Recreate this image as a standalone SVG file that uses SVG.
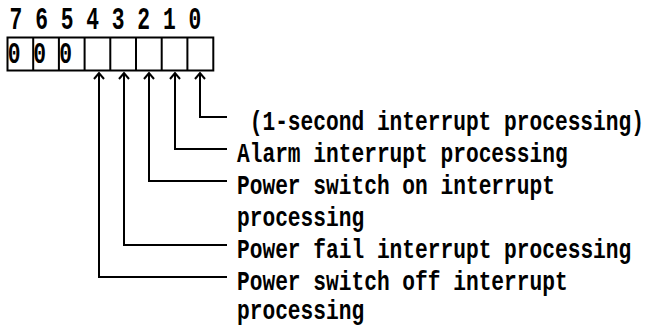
<svg xmlns="http://www.w3.org/2000/svg" width="648" height="326" viewBox="0 0 648 326">
<style>
.t{font-family:"Liberation Mono","DejaVu Sans Mono",monospace;font-weight:bold;font-size:21.2px;fill:#000}
.d{font-family:"Liberation Mono","DejaVu Sans Mono",monospace;font-weight:bold;font-size:21.3px;fill:#000}
.box{fill:#fff;stroke:#000;stroke-width:2}
.c{fill:none;stroke:#000;stroke-width:2}
</style>
<defs>
<marker id="ah" markerUnits="userSpaceOnUse" viewBox="-8 -7 10 14" refX="0" refY="0" markerWidth="10" markerHeight="14" orient="auto-start-reverse">
<path d="M-6,-5 L0,0 L-6,5" fill="none" stroke="#000" stroke-width="2"/>
</marker>
</defs>
<rect width="648" height="326" fill="#fff"/>
<g id="register">
<text class="d" transform="translate(9.6,29) scale(1,1.5)">7 6 5 4 3 2 1 0</text>
<rect class="box" x="7.5" y="37.5" width="205.8" height="33"/>
<path class="c" d="M33.2,37.5V70.5M58.9,37.5V70.5M84.6,37.5V70.5M110.3,37.5V70.5M136,37.5V70.5M161.7,37.5V70.5M187.4,37.5V70.5"/>
<text class="d" transform="translate(7.8,63) scale(1,1.37)">0</text>
<text class="d" transform="translate(33.3,63) scale(1,1.37)">0</text>
<text class="d" transform="translate(59.3,63) scale(1,1.37)">0</text>
</g>
<g id="connectors">
<path class="c" marker-start="url(#ah)" d="M200,73V117H227"/>
<path class="c" marker-start="url(#ah)" d="M175,73V149H227"/>
<path class="c" marker-start="url(#ah)" d="M149,73V181H227"/>
<path class="c" marker-start="url(#ah)" d="M124,73V245H227"/>
<path class="c" marker-start="url(#ah)" d="M99,73V277H227"/>
</g>
<g id="bit0"><text class="t" transform="translate(249.7,129.5) scale(1,1.3)">(1-second interrupt processing)</text></g>
<g id="bit1"><text class="t" transform="translate(237,161.5) scale(1,1.3)">Alarm interrupt processing</text></g>
<g id="bit2"><text class="t" transform="translate(237,193.5) scale(1,1.3)">Power switch on interrupt</text>
<text class="t" transform="translate(237,225.5) scale(1,1.3)">processing</text></g>
<g id="bit3"><text class="t" transform="translate(237,257.5) scale(1,1.3)">Power fail interrupt processing</text></g>
<g id="bit4"><text class="t" transform="translate(237,289.5) scale(1,1.3)">Power switch off interrupt</text>
<text class="t" transform="translate(237,319) scale(1,1.3)">processing</text></g>
</svg>
